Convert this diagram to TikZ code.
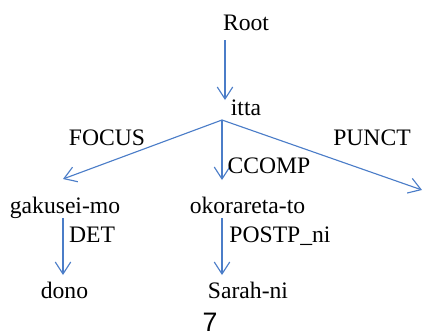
\documentclass[tikz,border=0pt]{standalone}
\usepackage{fontspec}
\setmainfont{Liberation Serif}
\newfontfamily\digitfont{Liberation Sans}
\usetikzlibrary{arrows.meta}
\definecolor{deparc}{RGB}{75,125,200}

\begin{document}
\begin{tikzpicture}[x=0.025cm, y=-0.025cm,
  word/.style={anchor=base, inner sep=0pt, font=\fontsize{16.8}{19}\selectfont},
  rel/.style={anchor=base, inner sep=0pt, font=\fontsize{16.8}{19}\selectfont},
  arr/.style={-{Straight Barb[length=8.5pt, width=11pt]}, line width=0.8pt, deparc}]
\useasboundingbox (0,0) rectangle (423,336);
% Top: Root and head
\node[word] (root) at (246,30) {Root};
\node[word] (itta) at (246,115) {itta};
\coordinate (root-out) at (225,40);
\coordinate (itta-in) at (225,100);
\draw[arr] (root-out) -- (itta-in);
% Dependents of itta
\coordinate (itta-out) at (222,120);
\node[word] (gakusei) at (65,213) {gakusei-mo};
\node[word] (okorareta) at (247.5,213) {okorareta-to};
\coordinate (gakusei-in) at (63,179);
\coordinate (okorareta-in) at (222,180);
\coordinate (punct-in) at (422,190);
\draw[arr] (itta-out) -- (gakusei-in);
\draw[arr] (itta-out) -- (okorareta-in);
\draw[arr] (itta-out) -- (punct-in);
\node[rel] (focus) at (107,145) {FOCUS};
\node[rel] (ccomp) at (269,173) {CCOMP};
\node[rel] (punct) at (372,145) {PUNCT};
% Bottom row
\node[word] (dono) at (64.5,298) {dono};
\node[word] (sarah) at (248,298) {Sarah-ni};
\coordinate (gakusei-out) at (63,218);
\coordinate (dono-in) at (63,275);
\coordinate (okorareta-out) at (222,218);
\coordinate (sarah-in) at (222,275);
\draw[arr] (gakusei-out) -- (dono-in);
\draw[arr] (okorareta-out) -- (sarah-in);
\node[rel] (det) at (92,242) {DET};
\node[rel] (postp) at (280,242) {POSTP\_ni};
% Page number
\node[anchor=base, inner sep=0pt, font=\digitfont\fontsize{19}{21}\selectfont] (page) at (210,331) {7};
\end{tikzpicture}
\end{document}
